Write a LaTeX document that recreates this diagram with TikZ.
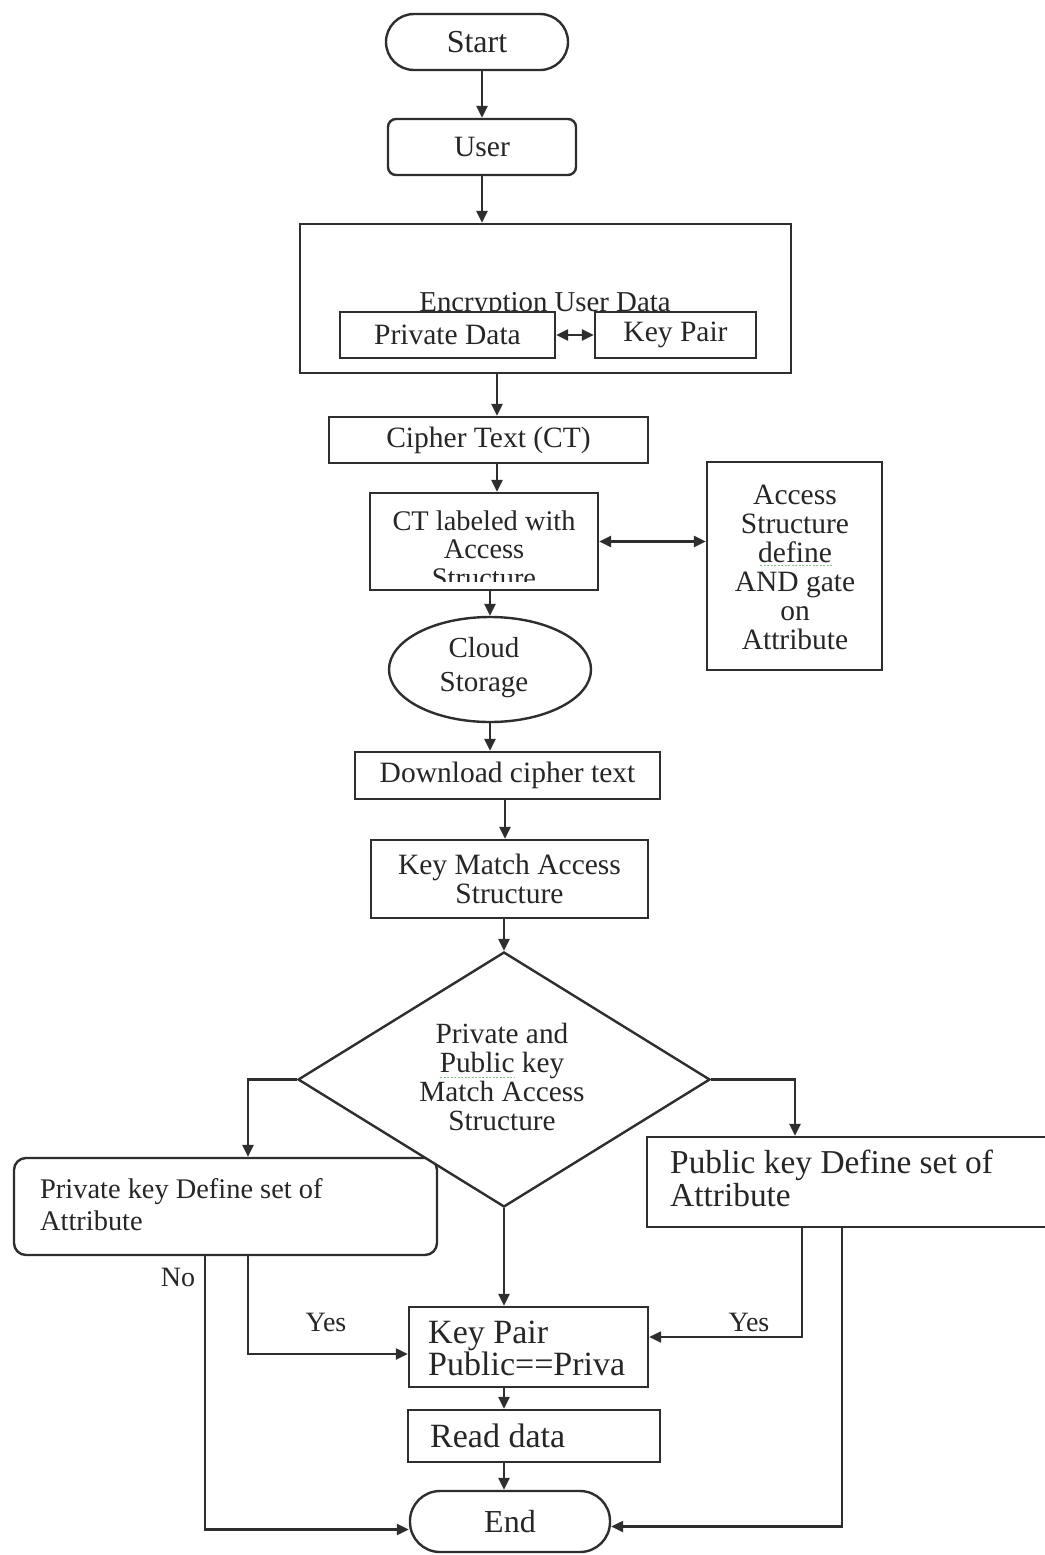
\documentclass[tikz,border=0pt]{standalone}
\usepackage{fontspec}
\setmainfont{Liberation Serif}
\usetikzlibrary{arrows.meta,shapes.geometric,calc}

\begin{document}
\begin{tikzpicture}[x=1pt,y=-1pt,
  ln/.style={draw=black!82,line width=2.4pt},
  txt/.style={text=black!85,inner sep=0pt,align=center},
  fsA/.style={font=\fontsize{29.5}{29}\selectfont},
  fsB/.style={font=\fontsize{34}{30}\selectfont},
  fsT/.style={font=\fontsize{32}{33}\selectfont},
  boxn/.style={ln,fill=white,rectangle,inner sep=0pt},
  tip/.tip={Triangle[length=12pt,width=11pt]},
  arr/.style={ln,-tip},
  darr/.style={ln,tip-tip},
  lbl/.style={txt,font=\fontsize{28}{30}\selectfont},
  spell/.style={draw=green!45!black,opacity=0.45,line width=1pt,dash pattern=on 2pt off 1.5pt}
]
\useasboundingbox[fill=white] (0,0) rectangle (1044,1555);

% guide lines for vertical connectors
\coordinate (xA) at (497,0);
\coordinate (xB) at (505,0);
\coordinate (xL) at (248,0);
\coordinate (xN) at (205,0);
\coordinate (xR) at (795,0);
\coordinate (xS) at (802,0);
\coordinate (xT) at (842,0);

% terminal and first steps
\node[boxn,rounded corners=28pt,minimum width=182pt,minimum height=56pt,txt,fsT] (start) at (477,42) {Start};
\node[boxn,rounded corners=8pt,minimum width=188pt,minimum height=56pt,txt,fsA] (user) at (482,147) {User};

% encryption group
\node[boxn,minimum width=491pt,minimum height=149pt] (enc) at (545.5,298.5) {};
\node[txt,font=\fontsize{28.8}{30}\selectfont,anchor=base] (enctext) at (545,311) {Encryption User Data};
\node[boxn,minimum width=215pt,minimum height=46pt,txt,fsA] (pd) at (447.5,335) {Private Data};
\node[boxn,minimum width=161pt,minimum height=46pt,txt,fsA] (kp) at (675.5,335) {Key Pair};

\node[boxn,minimum width=319pt,minimum height=46pt,txt,fsA] (ct) at (488.5,440) {Cipher Text (CT)};

% labelled ciphertext, text clipped by the box margin
\node[boxn,minimum width=228pt,minimum height=97pt] (lab) at (484,541.5) {};
\begin{scope}
  \clip (370,493) rectangle (598,581);
  \node[txt,font=\fontsize{28.4}{28.5}\selectfont] (labtext) at (484,549) {CT labeled with\\Access\\Structure};
\end{scope}

\node[boxn,minimum width=175pt,minimum height=208pt] (acc) at (794.5,566) {};
\node[txt,fsA] (acctext) at (795,567) {Access\\Structure\\define\\AND gate\\on\\Attribute};
\draw[spell] (760,565) -- (832,565);

\node[ln,fill=white,ellipse,inner sep=0pt,minimum width=202pt,minimum height=105pt] (cloud) at (490,669.5) {};
\node[txt,font=\fontsize{29}{34}\selectfont] (cloudtext) at (484,668) {Cloud\\Storage};

\node[boxn,minimum width=305pt,minimum height=47pt,txt,fsA] (dl) at (507.5,775.5) {Download cipher text};
\node[boxn,minimum width=277pt,minimum height=78pt,txt,fsA] (kma) at (509.5,879) {Key Match Access\\Structure};

% side boxes of the decision
\node[boxn,rounded corners=12pt,minimum width=423pt,minimum height=97pt] (pk) at (225.5,1206.5) {};
\node[txt,font=\fontsize{28.4}{32}\selectfont,align=left,anchor=north west] (pktext) at (40,1178) {Private key Define set of\\Attribute};
\node[boxn,minimum width=413pt,minimum height=90pt] (pub) at (853.5,1182) {};
\node[txt,font=\fontsize{33.4}{33}\selectfont,align=left,anchor=north west] (pubtext) at (670,1150) {Public key Define set of\\Attribute};

% decision
\node[ln,fill=white,diamond,inner sep=0pt,minimum width=412pt,minimum height=255pt,shape aspect=1.6] (dia) at (504,1079.5) {};
\node[txt,font=\fontsize{29.3}{28.7}\selectfont] (diatext) at (502,1077) {Private and\\Public key\\Match Access\\Structure};
\draw[spell] (440,1077) -- (514,1077);

\node[boxn,minimum width=239pt,minimum height=80pt] (kpair) at (528.5,1347) {};
\node[txt,fsB,align=left,anchor=west] (kpairtext) at (428,1348) {Key Pair\\Public==Priva};
\node[boxn,minimum width=252pt,minimum height=52pt] (rd) at (534,1436) {};
\node[txt,fsB,anchor=west] (rdtext) at (430,1436) {Read data};
\node[boxn,rounded corners=30pt,minimum width=200pt,minimum height=61pt,txt,fsT] (end) at (510,1521.5) {End};

% main flow
\draw[arr] (user.north |- start.south) -- (user.north);
\draw[arr] (user.south) -- (user.south |- enc.north);
\draw[arr] (enc.south -| xA) -- (ct.north -| xA);
\draw[arr] (ct.south -| xA) -- (lab.north -| xA);
\draw[arr] (lab.south -| cloud.north) -- (cloud.north);
\draw[arr] (cloud.south) -- (cloud.south |- dl.north);
\draw[arr] (dl.south -| xB) -- (kma.north -| xB);
\draw[arr] (kma.south -| dia.north) -- (dia.north);
\draw[arr] (dia.south) -- (dia.south |- kpair.north);
\draw[arr] (kpair.south -| dia.south) -- (rd.north -| dia.south);
\draw[arr] (rd.south -| dia.south) -- (end.north -| dia.south);

% two-way links
\draw[darr] (pd.east) -- (kp.west);
\draw[darr] (lab.east) -- (lab.east -| acc.west);

% decision branches
\draw[arr] (dia.west) -| (pk.north -| xL);
\draw[arr] (dia.east) -| (pub.north -| xR);
\draw[arr] (pk.south -| xL) |- ($(kpair.west)+(0,7)$);
\draw[arr] (pk.south -| xN) |- ($(end.west)+(0,8)$);
\draw[arr] (pub.south -| xS) |- ($(kpair.east)+(0,-10)$);
\draw[arr] (pub.south -| xT) |- ($(end.east)+(0,5)$);

% branch labels
\node[lbl] (no) at (178,1277) {No};
\node[lbl] (yesl) at (326,1322) {Yes};
\node[lbl] (yesr) at (749,1322) {Yes};
\end{tikzpicture}
\end{document}
